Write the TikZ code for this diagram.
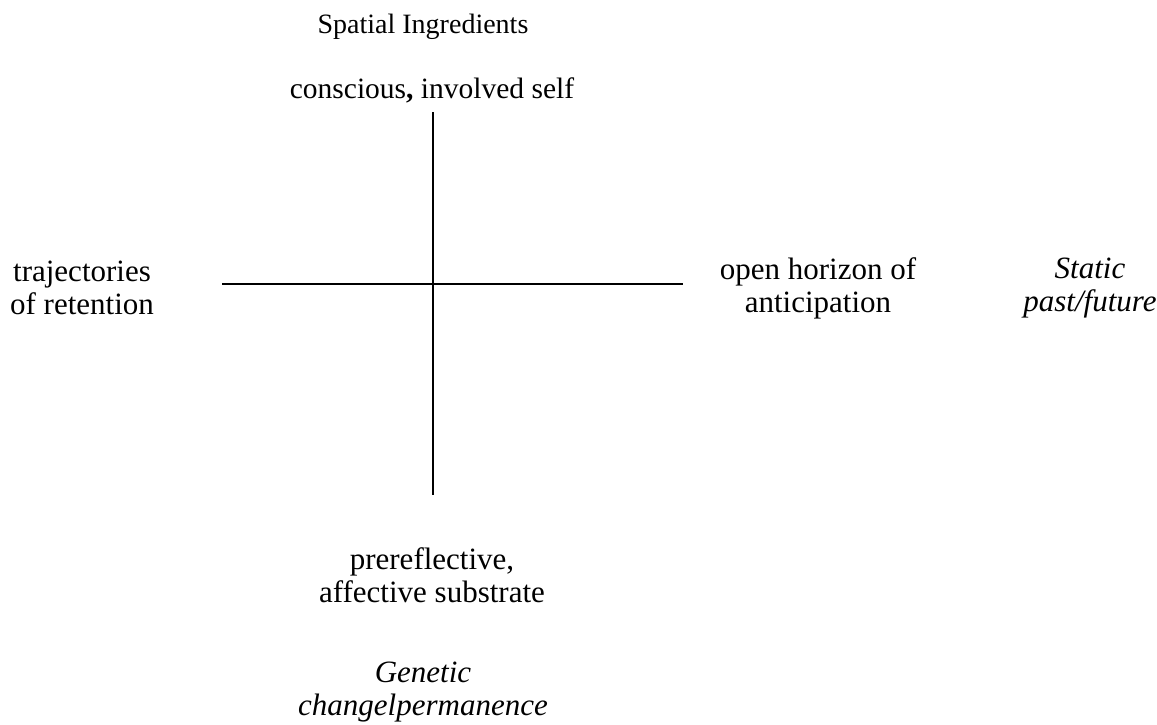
\documentclass[tikz,border=0pt]{standalone}
\usepackage{fontspec}
\setmainfont{Liberation Serif}
\begin{document}
\begin{tikzpicture}[x=1pt,y=-1pt,
  lbl/.style={align=center,inner sep=0pt,font=\fontsize{31}{33}\selectfont},
  ital/.style={lbl,font=\fontsize{31}{33}\selectfont\itshape},
  axis/.style={line width=1.6pt}]
\useasboundingbox (0,0) rectangle (1157,724);
\node[inner sep=0pt,font=\fontsize{28}{32}\selectfont] (title) at (423,27) {Spatial Ingredients};
\node[inner sep=0pt,font=\fontsize{29.5}{33}\selectfont] (top) at (432,90) {conscious\textbf{,} involved self};
\node[lbl] (left) at (82,288) {trajectories\\of retention};
\node[lbl] (right) at (818,288) {open horizon of\\anticipation};
\node[ital] (static) at (1090,288) {Static\\past/future};
\node[lbl] (bottom) at (432,575) {prereflective,\\affective substrate};
\node[ital] (genetic) at (423,692) {Genetic\\changelpermanence};
\coordinate (vt) at (433,112);
\coordinate (vb) at (433,495);
\coordinate (hl) at (222,284);
\coordinate (hr) at (683,284);
\draw[axis] (vt) -- (vb);
\draw[axis] (hl) -- (hr);
\end{tikzpicture}
\end{document}
